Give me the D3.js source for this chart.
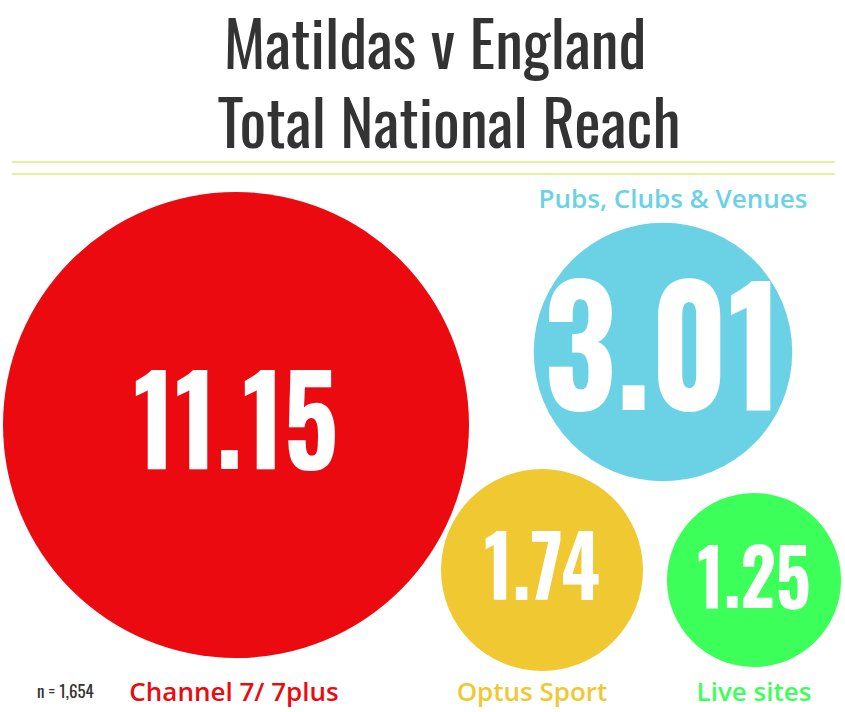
<!DOCTYPE html>
<html><head><meta charset="utf-8">
<script src="https://cdn.jsdelivr.net/npm/d3@7"></script>
<style>body{margin:0;background:#fff}</style>
</head><body><div id="chart"></div>
<script>
// reach in millions
var categories = ["Channel 7/ 7plus", "Pubs, Clubs & Venues", "Optus Sport", "Live sites"];
var values = [11.15, 3.01, 1.74, 1.25];
var colours = ["#eb0a10", "#6bd2e6", "#f0c832", "#3cff5a"];
var labelColours = ["#eb0a10", "#6bd2e6", "#f0c832", "#3cff5a"];

var width = 845, height = 712;
var condensed = "Oswald, 'Liberation Sans Narrow', 'DejaVu Sans Condensed', sans-serif";

var svg = d3.select("#chart").append("svg").attr("width", width).attr("height", height);

svg.selectAll("text.title").data(["Matildas v England", "Total National Reach"]).enter()
    .append("text").attr("class", "title")
    .attr("x", function(d, i) { return i ? 449 : 435; })
    .attr("y", function(d, i) { return 69 + i * 79; })
    .attr("text-anchor", "middle").attr("font-family", condensed)
    .attr("font-size", 63).attr("fill", "#333")
    .text(function(d) { return d; });

[162, 174].forEach(function(y) {
    svg.append("line").attr("x1", 12).attr("x2", 835).attr("y1", y).attr("y2", y)
        .attr("stroke", "#c8e632").attr("stroke-width", 1);
});

var r = d3.scalePow().exponent(0.45).domain([0, 11.15]).range([0, 233]);

// layout centres and label positions
var layout = [
    {cx: 236, cy: 425, lx: 234, ly: 701, fs: 122},
    {cx: 663, cy: 352, lx: 673, ly: 208, fs: 160},
    {cx: 542, cy: 570, lx: 532, ly: 701, fs: 84},
    {cx: 754, cy: 580, lx: 754, ly: 701, fs: 78}
];

var g = svg.selectAll("g.bubble").data(values).enter().append("g").attr("class", "bubble");
g.append("circle")
    .attr("cx", function(d, i) { return layout[i].cx; })
    .attr("cy", function(d, i) { return layout[i].cy; })
    .attr("r", function(d) { return r(d); })
    .attr("fill", function(d, i) { return colours[i]; });
g.append("text")
    .attr("transform", function(d, i) { return "translate(" + layout[i].cx + "," + layout[i].cy + ") scale(0.88,1)"; })
    .attr("text-anchor", "middle").attr("dy", "0.36em")
    .attr("font-family", condensed).attr("font-weight", "bold")
    .attr("font-size", function(d, i) { return layout[i].fs; })
    .attr("fill", "#fff")
    .text(function(d) { return d.toFixed(2); });
g.append("text")
    .attr("x", function(d, i) { return layout[i].lx; })
    .attr("y", function(d, i) { return layout[i].ly; })
    .attr("text-anchor", "middle").attr("font-family", "'Open Sans', sans-serif")
    .attr("font-weight", 600).attr("font-size", 26)
    .attr("fill", function(d, i) { return labelColours[i]; })
    .text(function(d, i) { return categories[i]; });

svg.append("text").attr("x", 37).attr("y", 698).attr("font-family", condensed)
    .attr("font-size", 17).attr("fill", "#333").text("n = 1,654");
</script></body></html>
